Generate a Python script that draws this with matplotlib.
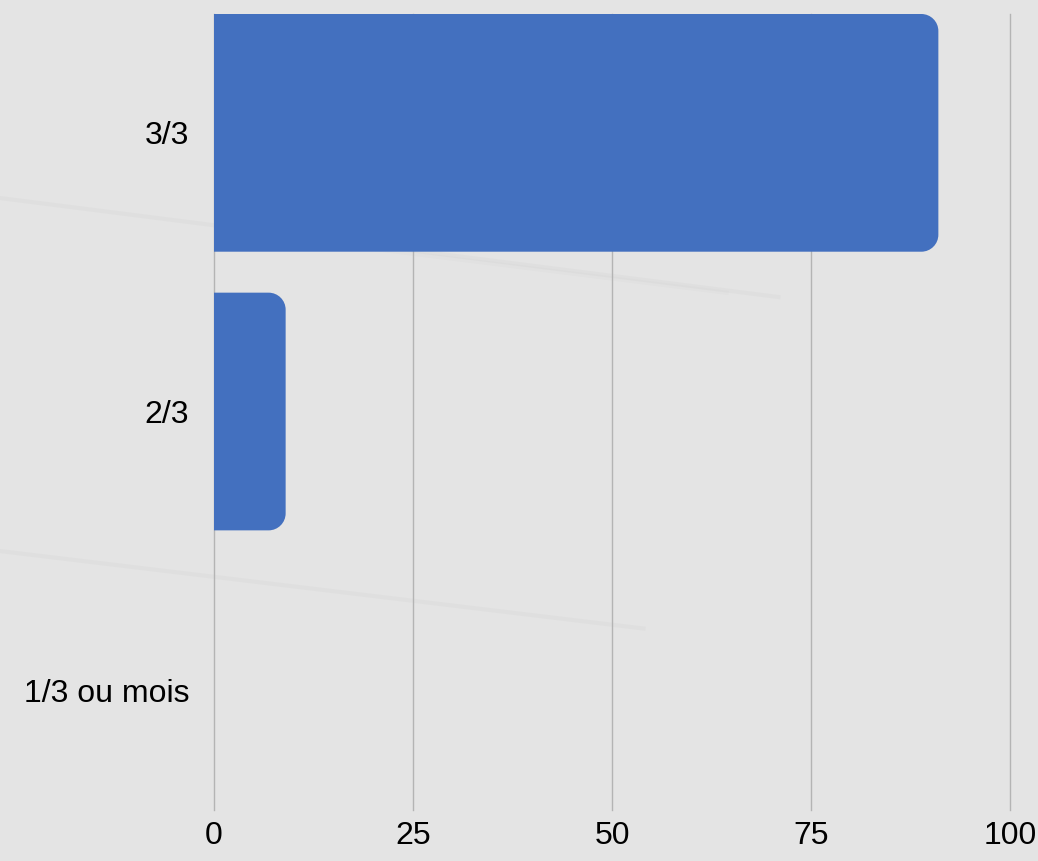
import matplotlib
matplotlib.use("Agg")
import matplotlib.pyplot as plt
from matplotlib.path import Path
from matplotlib.patches import PathPatch
from matplotlib.lines import Line2D

categories = ["1/3 ou mois", "2/3", "3/3"]
values = [0, 9, 91]
xticks = [0, 25, 50, 75, 100]

W, H, DPI = 1038, 861, 100
BG = "#e4e4e4"
BAR = "#4370bf"

plt.rcParams["font.family"] = ["Liberation Sans", "DejaVu Sans"]

fig = plt.figure(figsize=(W / DPI, H / DPI), dpi=DPI, facecolor=BG)
ax = fig.add_axes([214 / W, 1 - 810 / H, (1010 - 214) / W, (810 - 14) / H])
ax.set_facecolor("none")

# faint background streaks (decoration)
for (x0, y0, x1, y1, a) in [(0.0, 0.77, 0.75, 0.655, 0.06), (0.0, 0.36, 0.62, 0.27, 0.06),
                              (0.3, 0.72, 0.7, 0.66, 0.04)]:
    fig.add_artist(Line2D([x0, x1], [y0, y1], transform=fig.transFigure,
                          color="#9a9a9a", lw=3, alpha=a, zorder=0))

bar_h = 0.853
ypos = list(range(len(categories)))
bars = ax.barh(ypos, values, height=bar_h, color="none", edgecolor="none")

ax.set_xlim(0, 100)
ax.set_ylim(-0.43, len(categories) - 1 + bar_h / 2)
ax.set_xticks(xticks)
ax.set_yticks(ypos)
ax.set_yticklabels(categories)
ax.xaxis.grid(True, color="#b4b4b4", lw=1)
ax.yaxis.grid(False)
ax.set_axisbelow(True)
for s in ax.spines.values():
    s.set_visible(False)
ax.tick_params(axis="both", length=0, labelsize=23, colors="black")
ax.tick_params(axis="x", pad=8)
ax.tick_params(axis="y", pad=18)
for gl in ax.get_xgridlines():
    gl.set_clip_on(False)

# rounded right corners
fig.canvas.draw()
px_per_x = ax.get_window_extent().width / (ax.get_xlim()[1] - ax.get_xlim()[0])
px_per_y = ax.get_window_extent().height / (ax.get_ylim()[1] - ax.get_ylim()[0])
r_px = 17
k = 0.5523
for rect in bars:
    x0, y0 = rect.get_x(), rect.get_y()
    w, h = rect.get_width(), rect.get_height()
    if w <= 0:
        continue
    rx = min(r_px / px_per_x, w)
    ry = min(r_px / px_per_y, h / 2)
    x1, y1 = x0 + w, y0 + h
    verts = [(x0, y0), (x1 - rx, y0),
             (x1 - rx + k * rx, y0), (x1, y0 + ry - k * ry), (x1, y0 + ry),
             (x1, y1 - ry),
             (x1, y1 - ry + k * ry), (x1 - rx + k * rx, y1), (x1 - rx, y1),
             (x0, y1), (x0, y0)]
    codes = [Path.MOVETO, Path.LINETO,
             Path.CURVE4, Path.CURVE4, Path.CURVE4,
             Path.LINETO,
             Path.CURVE4, Path.CURVE4, Path.CURVE4,
             Path.LINETO, Path.CLOSEPOLY]
    ax.add_patch(PathPatch(Path(verts, codes), facecolor=BAR, edgecolor="none", zorder=3))

fig.savefig("out.png", dpi=DPI, facecolor=BG)
